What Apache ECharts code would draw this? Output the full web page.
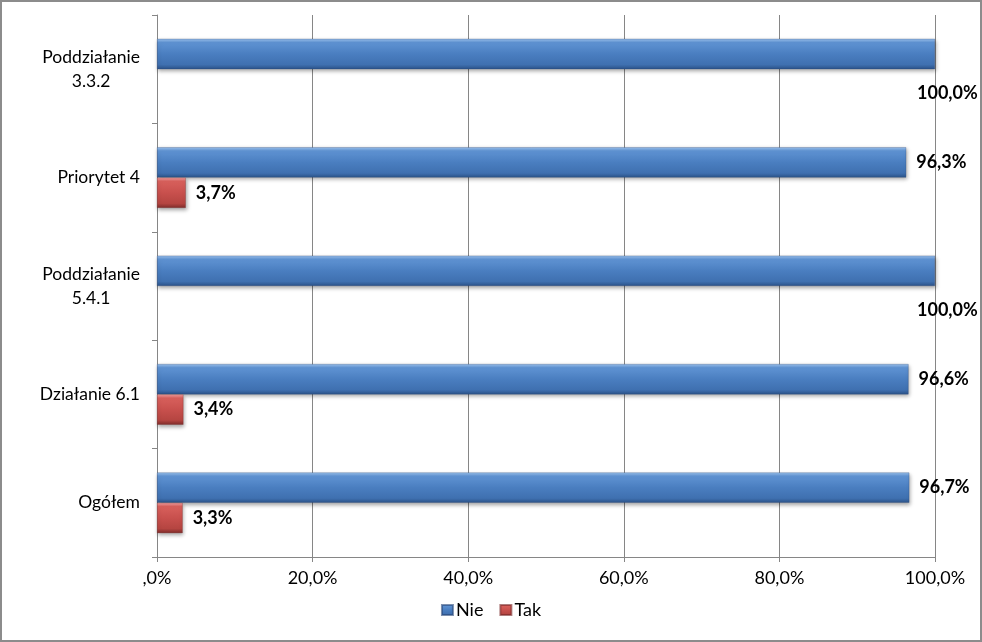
<!DOCTYPE html>
<html>
<head>
<meta charset="utf-8">
<script src="https://cdn.jsdelivr.net/npm/echarts@6/dist/echarts.min.js"></script>
<style>
html,body{margin:0;padding:0;background:#fff;}
#frame{position:absolute;left:0;top:0;width:978px;height:638px;border:2px solid #8c8c8c;background:#fff;}
#chart{width:978px;height:638px;}
</style>
</head>
<body>
<div id="frame"><div id="chart"></div></div>
<script>
// Categories bottom to top
const categories = ['Ogółem', 'Działanie 6.1', 'Poddziałanie 5.4.1', 'Priorytet 4', 'Poddziałanie 3.3.2'];
const nieValues = [96.7, 96.6, 100.0, 96.3, 100.0];
const takValues = [3.3, 3.4, 0, 3.7, 0];
const xTicks = [0, 20, 40, 60, 80, 100];
const seriesNames = ['Nie', 'Tak'];

const FONT = 'Lato, "Open Sans", sans-serif';

function pct(v) {
  if (v === 0) return ',0%';
  return v.toFixed(1).replace('.', ',') + '%';
}

function grad(c0, c1, c2, c3, c4) {
  return new echarts.graphic.LinearGradient(0, 0, 0, 1, [
    {offset: 0, color: c0},
    {offset: 0.12, color: c1},
    {offset: 0.5, color: c2},
    {offset: 0.85, color: c3},
    {offset: 1, color: c4}
  ]);
}
const blueFill = grad('#9cc2ee', '#5f93d3', '#4a7ec0', '#3f70b0', '#2b5288');
const redFill = grad('#f0a0a0', '#d8605c', '#c8504d', '#b54541', '#7e2c2a');

const chart = echarts.init(document.getElementById('chart'), null, {renderer: 'canvas'});

const nieData = nieValues.map(v => {
  const d = {value: v};
  if (v >= 100) {
    d.label = {offset: [-28, 39]};
  }
  return d;
});
const takData = takValues.map(v => {
  const d = {value: v};
  if (v === 0) {
    d.label = {show: false};
    d.itemStyle = {opacity: 0};
  }
  return d;
});

chart.setOption({
  animation: false,
  textStyle: {fontFamily: FONT},
  grid: {left: 155, right: 45, top: 13, bottom: 83, containLabel: false},
  legend: {
    bottom: 16,
    left: 'center',
    itemWidth: 11,
    itemHeight: 10,
    itemGap: 16,
    icon: 'rect',
    textStyle: {fontFamily: FONT, fontSize: 18, color: '#000', padding: [0, 0, 0, -2]},
    data: [
      {name: 'Nie', itemStyle: {color: blueFill}},
      {name: 'Tak', itemStyle: {color: redFill}}
    ]
  },
  xAxis: {
    type: 'value',
    min: 0,
    max: 100,
    interval: 20,
    axisLine: {show: true, lineStyle: {color: '#868686'}},
    axisTick: {show: true, length: 5, lineStyle: {color: '#868686'}},
    splitLine: {show: true, lineStyle: {color: '#868686', width: 1}},
    axisLabel: {
      formatter: v => pct(v),
      fontFamily: FONT, fontSize: 18, color: '#000', margin: 12
    }
  },
  yAxis: {
    type: 'category',
    data: categories,
    axisLine: {show: true, lineStyle: {color: '#868686'}},
    axisTick: {show: true, length: 5, lineStyle: {color: '#868686'}},
    splitLine: {show: false},
    axisLabel: {
      margin: 17,
      fontFamily: FONT, fontSize: 17.5, color: '#000', lineHeight: 24,
      formatter: v => {
        const parts = v.startsWith('Poddziałanie ') ? ['Poddziałanie', v.slice(13)] : [v];
        return parts.map(p => '{c|' + p + '}').join('\n');
      },
      rich: {c: {align: 'center', fontFamily: FONT, fontSize: 17.5, color: '#000', lineHeight: 24}}
    }
  },
  series: [
    {
      name: seriesNames[0],
      type: 'bar',
      data: nieData,
      barGap: '0%',
      barCategoryGap: '44%',
      itemStyle: {
        color: blueFill,
        borderColor: 'rgba(40,70,120,0.6)',
        borderWidth: 0.5,
        shadowBlur: 4,
        shadowColor: 'rgba(0,0,0,0.35)',
        shadowOffsetX: 1,
        shadowOffsetY: 2
      },
      label: {
        show: true,
        position: 'right',
        distance: 10,
        formatter: p => pct(p.value),
        fontFamily: FONT, fontSize: 18, fontWeight: 'bold', color: '#000'
      }
    },
    {
      name: seriesNames[1],
      type: 'bar',
      data: takData,
      barGap: '0%',
      barCategoryGap: '44%',
      itemStyle: {
        color: redFill,
        borderColor: 'rgba(120,40,40,0.6)',
        borderWidth: 0.5,
        shadowBlur: 4,
        shadowColor: 'rgba(0,0,0,0.35)',
        shadowOffsetX: 1,
        shadowOffsetY: 2
      },
      label: {
        show: true,
        position: 'right',
        distance: 10,
        formatter: p => pct(p.value),
        fontFamily: FONT, fontSize: 18, fontWeight: 'bold', color: '#000'
      }
    }
  ]
});
</script>
</body>
</html>
